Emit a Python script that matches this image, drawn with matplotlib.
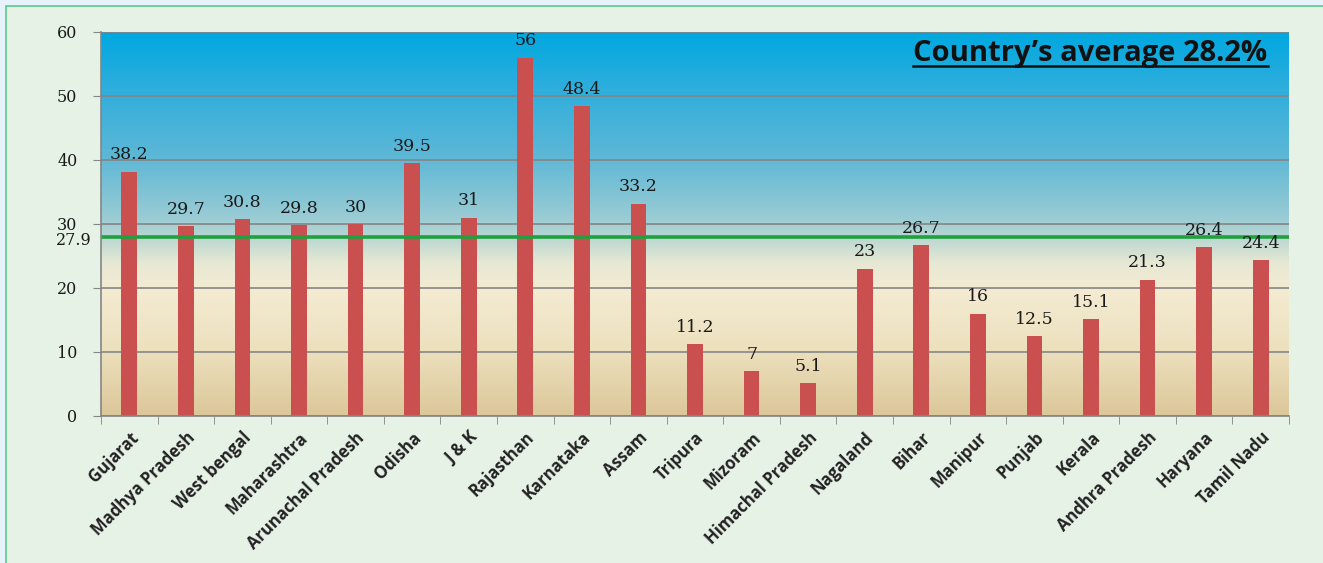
import numpy as np
import matplotlib.pyplot as plt
from matplotlib.colors import LinearSegmentedColormap
from matplotlib.patches import Rectangle
from matplotlib.lines import Line2D
from matplotlib.transforms import offset_copy

states = ["Gujarat", "Madhya Pradesh", "West bengal", "Maharashtra", "Arunachal Pradesh",
          "Odisha", "J & K", "Rajasthan", "Karnataka", "Assam", "Tripura", "Mizoram",
          "Himachal Pradesh", "Nagaland", "Bihar", "Manipur", "Punjab", "Kerala",
          "Andhra Pradesh", "Haryana", "Tamil Nadu"]
values = [38.2, 29.7, 30.8, 29.8, 30, 39.5, 31, 56, 48.4, 33.2, 11.2, 7, 5.1,
          23, 26.7, 16, 12.5, 15.1, 21.3, 26.4, 24.4]
value_labels = ["38.2", "29.7", "30.8", "29.8", "30", "39.5", "31", "56", "48.4", "33.2",
                "11.2", "7", "5.1", "23", "26.7", "16", "12.5", "15.1", "21.3", "26.4", "24.4"]
average_line = 27.9
title = "Country\u2019s average 28.2%"

fig = plt.figure(figsize=(13.23, 5.63), dpi=100)
fig.patch.set_facecolor("#e6f3fa")

# green framed panel behind the chart
panel = Rectangle((6 / 1323, -0.01), 1.0, 1 - 6 / 563 + 0.01, transform=fig.transFigure,
                  facecolor="#e7f2e6", edgecolor="#5cc98c", linewidth=1.2, zorder=-5)
fig.patches.append(panel)

ax = fig.add_axes([101 / 1323, 1 - 416 / 563, (1289 - 101) / 1323, (416 - 32) / 563])
ax.set_facecolor("none")

# sky-to-sand gradient fill of the plot area
stops = [(0.0, "#dcc79a"), (0.17, "#ece0bd"), (0.33, "#f4ebd2"), (0.40, "#e6e8d4"),
         (0.47, "#b5d6d2"), (0.52, "#98cbd4"), (0.68, "#5cb7d6"), (0.85, "#30aedc"),
         (1.0, "#00a8e0")]
cmap = LinearSegmentedColormap.from_list("bg", stops)
grad = np.linspace(0, 1, 256).reshape(-1, 1)
ax.imshow(grad, cmap=cmap, origin="lower", aspect="auto",
          extent=(-0.5, len(states) - 0.5, 0, 60), zorder=0)

x = np.arange(len(states))
ax.bar(x, values, width=0.28, color="#c9504e", zorder=3)

for xi, v, lab in zip(x, values, value_labels):
    ax.annotate(lab, (xi, v), xytext=(0, 6), textcoords="offset points",
                ha="center", va="bottom", fontsize=12.5, family="DejaVu Serif",
                color="#1a1a1a", zorder=5)

ax.axhline(average_line, color="#20a040", linewidth=2.6, zorder=4)

ax.set_xlim(-0.5, len(states) - 0.5)
ax.set_ylim(0, 60)
ax.set_yticks(np.arange(0, 61, 10))
ax.yaxis.grid(True, color="#858585", linewidth=1.2, zorder=1)
for gl in ax.get_ygridlines():
    gl.set_zorder(1)

ax.tick_params(axis="y", direction="out", length=6, color="#858585", pad=11,
               labelsize=11.5, labelcolor="#1a1a1a")
for t in ax.get_yticklabels():
    t.set_family("DejaVu Serif")

# the average value sits just under the "30" tick label
avg_tr = offset_copy(ax.transData, fig=fig, x=-7, y=-2.5, units="points")
ax.text(-0.5, average_line, "27.9", transform=avg_tr, ha="right", va="center",
        fontsize=11.5, family="DejaVu Serif", color="#1a1a1a")

ax.set_xticks(x)
ax.set_xticklabels(states, rotation=45, ha="right", va="top", rotation_mode="anchor",
                   fontsize=12, fontweight="bold", family="Open Sans", color="#222222")
ax.tick_params(axis="x", which="major", length=0, pad=9)
ax.set_xticks(np.arange(-0.5, len(states), 1.0), minor=True)
ax.tick_params(axis="x", which="minor", direction="out", length=6, color="#858585")

for side in ["top", "right"]:
    ax.spines[side].set_visible(False)
for side in ["left", "bottom"]:
    ax.spines[side].set_color("#858585")
    ax.spines[side].set_linewidth(1.2)
    ax.spines[side].set_zorder(4)

# underlined headline in the top-right corner of the plot
head = ax.text(0.982, 0.943, title, transform=ax.transAxes, ha="right", va="center",
               fontsize=21, fontweight="bold", family="Open Sans", color="#111111", zorder=6)
fig.canvas.draw()
bb = head.get_window_extent().transformed(fig.transFigure.inverted())
fig.add_artist(Line2D([bb.x0, bb.x1], [bb.y0 + 0.004, bb.y0 + 0.004],
                      transform=fig.transFigure, color="#111111", linewidth=1.8))

fig.savefig("out.png", dpi=100, facecolor=fig.get_facecolor())
